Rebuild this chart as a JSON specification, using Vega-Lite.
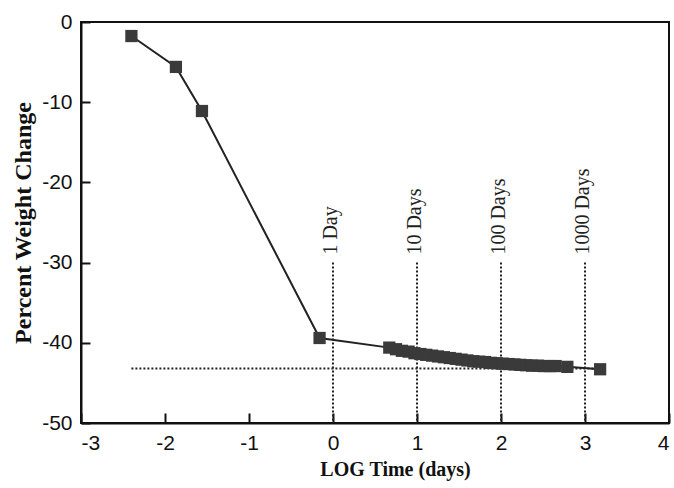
{
  "$schema": "https://vega.github.io/schema/vega-lite/v6.json",
  "width": 588,
  "height": 401,
  "autosize": "none",
  "padding": {"left": 81, "top": 22, "right": 5, "bottom": 65},
  "background": "white",
  "config": {
    "view": {"stroke": "#111", "strokeWidth": 2},
    "axis": {"grid": false, "domainColor": "#111", "domainWidth": 2, "labelColor": "#111", "titleColor": "#111"}
  },
  "datasets": {
    "weight": [
      {"t": -2.40, "w": -1.75},
      {"t": -1.87, "w": -5.6},
      {"t": -1.56, "w": -11.1},
      {"t": -0.16, "w": -39.4},
      {"t": 0.67, "w": -40.6},
      {"t": 0.75, "w": -40.8},
      {"t": 0.82, "w": -41.0},
      {"t": 0.90, "w": -41.1},
      {"t": 0.97, "w": -41.3},
      {"t": 1.04, "w": -41.4},
      {"t": 1.11, "w": -41.5},
      {"t": 1.18, "w": -41.6},
      {"t": 1.25, "w": -41.7},
      {"t": 1.32, "w": -41.8},
      {"t": 1.39, "w": -41.9},
      {"t": 1.46, "w": -42.0},
      {"t": 1.53, "w": -42.1},
      {"t": 1.60, "w": -42.2},
      {"t": 1.67, "w": -42.3},
      {"t": 1.74, "w": -42.35},
      {"t": 1.81, "w": -42.4},
      {"t": 1.88, "w": -42.5},
      {"t": 1.95, "w": -42.55},
      {"t": 2.02, "w": -42.6},
      {"t": 2.09, "w": -42.65},
      {"t": 2.16, "w": -42.7},
      {"t": 2.23, "w": -42.75},
      {"t": 2.30, "w": -42.8},
      {"t": 2.37, "w": -42.85},
      {"t": 2.44, "w": -42.85},
      {"t": 2.51, "w": -42.9},
      {"t": 2.58, "w": -42.9},
      {"t": 2.65, "w": -42.9},
      {"t": 2.79, "w": -43.0},
      {"t": 3.18, "w": -43.3}
    ],
    "days": [
      {"t": 0, "label": "1 Day", "top": -30, "bottom": -50, "ty": -29},
      {"t": 1, "label": "10 Days", "top": -30, "bottom": -50, "ty": -29},
      {"t": 2, "label": "100 Days", "top": -30, "bottom": -50, "ty": -29},
      {"t": 3, "label": "1000 Days", "top": -30, "bottom": -50, "ty": -29}
    ],
    "plateau": [
      {"t": -2.40, "t2": 3.18, "w": -43.2}
    ]
  },
  "layer": [
    {
      "data": {"name": "weight"},
      "mark": {"type": "line", "color": "#222", "strokeWidth": 2},
      "encoding": {
        "x": {"field": "t", "type": "quantitative", "scale": {"domain": [-3, 4], "nice": false},
          "axis": {"values": [-3, -2, -1, 0, 1, 2, 3, 4], "labelExpr": "'' + datum.value", "tickSize": -10, "tickColor": "#111", "tickWidth": 2, "labelPadding": 19, "labelFont": "Liberation Sans", "labelFontSize": 21, "title": "LOG Time (days)", "titleFont": "Liberation Serif", "titleFontWeight": "bold", "titleFontSize": 20, "titlePadding": 6, "titleX": 314}},
        "y": {"field": "w", "type": "quantitative", "scale": {"domain": [-50, 0], "nice": false},
          "axis": {"values": [-50, -40, -30, -20, -10, 0], "labelExpr": "'' + datum.value", "tickSize": -9, "tickColor": "#111", "tickWidth": 2, "labelPadding": 18, "labelFont": "Liberation Sans", "labelFontSize": 21, "title": "Percent Weight Change", "titleFont": "Liberation Serif", "titleFontWeight": "bold", "titleFontSize": 24, "titlePadding": 6}}
      }
    },
    {
      "data": {"name": "days"},
      "mark": {"type": "rule", "color": "#222", "strokeWidth": 2, "strokeDash": [2, 2]},
      "encoding": {
        "x": {"field": "t", "type": "quantitative"},
        "y": {"field": "top", "type": "quantitative"},
        "y2": {"field": "bottom"}
      }
    },
    {
      "data": {"name": "plateau"},
      "mark": {"type": "rule", "color": "#222", "strokeWidth": 2, "strokeDash": [2, 2]},
      "encoding": {
        "x": {"field": "t", "type": "quantitative"},
        "x2": {"field": "t2"},
        "y": {"field": "w", "type": "quantitative"}
      }
    },
    {
      "data": {"name": "weight"},
      "mark": {"type": "point", "shape": "square", "filled": true, "size": 150, "color": "#3a3a3a", "opacity": 1},
      "encoding": {
        "x": {"field": "t", "type": "quantitative"},
        "y": {"field": "w", "type": "quantitative"}
      }
    },
    {
      "data": {"name": "days"},
      "mark": {"type": "text", "angle": 270, "align": "left", "baseline": "middle", "font": "Liberation Serif", "fontSize": 20, "color": "#222", "dy": -2},
      "encoding": {
        "x": {"field": "t", "type": "quantitative"},
        "y": {"field": "ty", "type": "quantitative"},
        "text": {"field": "label"}
      }
    }
  ]
}
